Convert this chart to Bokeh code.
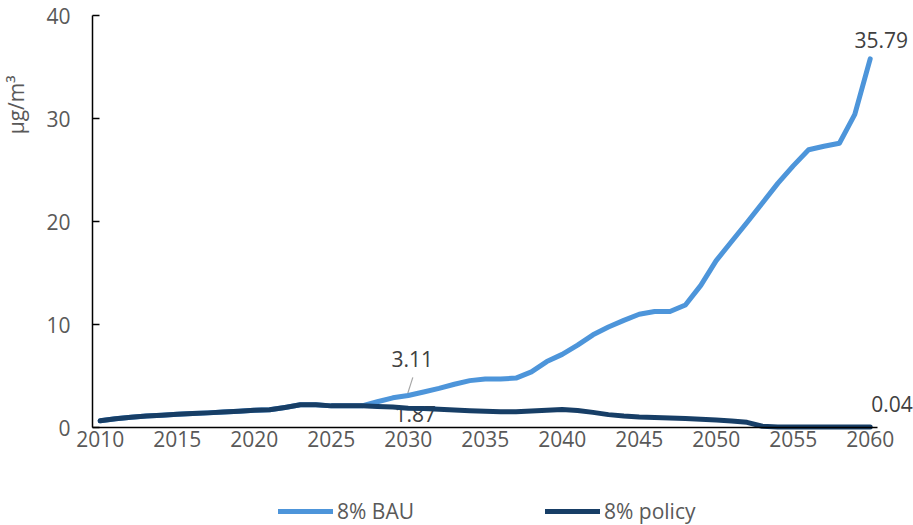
from bokeh.plotting import figure
from bokeh.models import Range1d, Legend, LegendItem, Label, Title, FixedTicker
from bokeh.embed import file_html
from bokeh.resources import INLINE

years = list(range(2010, 2061))

bau = [0.65, 0.85, 1.00, 1.12, 1.20, 1.28, 1.35, 1.42, 1.50, 1.58,
       1.68, 1.72, 1.95, 2.20, 2.20, 2.10, 2.10, 2.10, 2.50, 2.88,
       3.11, 3.45, 3.80, 4.20, 4.55, 4.70, 4.72, 4.80, 5.40, 6.40,
       7.10, 8.00, 9.00, 9.75, 10.40, 11.00, 11.26, 11.26, 11.90, 13.80,
       16.20, 18.06, 19.90, 21.80, 23.70, 25.40, 26.96, 27.30, 27.60, 30.40,
       35.79]

policy = [0.65, 0.85, 1.00, 1.12, 1.20, 1.28, 1.35, 1.42, 1.50, 1.58,
          1.68, 1.72, 1.95, 2.20, 2.20, 2.10, 2.10, 2.10, 2.05, 1.98,
          1.87, 1.85, 1.78, 1.70, 1.63, 1.57, 1.53, 1.53, 1.60, 1.68,
          1.74, 1.66, 1.47, 1.25, 1.12, 1.03, 0.98, 0.93, 0.87, 0.80,
          0.72, 0.64, 0.50, 0.12, 0.06, 0.05, 0.05, 0.05, 0.05, 0.04,
          0.04]

x_ticks = [2010, 2015, 2020, 2025, 2030, 2035, 2040, 2045, 2050, 2055, 2060]
y_ticks = [0, 10, 20, 30, 40]
series_names = ["8% BAU", "8% policy"]
colors = ["#4D95DA", "#173E66"]

FONT = "Open Sans"
FS = "21px"
TICK_COLOR = "#595959"
LABEL_COLOR = "#404040"

# layout geometry (pixels)
FULL_W, FULL_H = 913, 525
FRAME_LEFT = 31
AXIS_X_PX = 92        # y axis line position
AXIS_Y0_PX = 427      # y = 0 line position
AXIS_Y40_PX = 15      # y = 40 position
PX_PER_YEAR = 15.4
PX_PER_UNIT = (AXIS_Y0_PX - AXIS_Y40_PX) / 40.0

X0 = 2009.5 - (AXIS_X_PX - FRAME_LEFT) / PX_PER_YEAR
X1 = X0 + (FULL_W - FRAME_LEFT) / PX_PER_YEAR
Y0 = -(FULL_H - AXIS_Y0_PX) / PX_PER_UNIT
Y1 = 40 + AXIS_Y40_PX / PX_PER_UNIT

p = figure(width=FULL_W, height=FULL_H,
           x_range=Range1d(X0, X1), y_range=Range1d(Y0, Y1),
           output_backend="svg", toolbar_location=None,
           min_border_left=FRAME_LEFT, min_border_right=0,
           min_border_top=0, min_border_bottom=0)
p.outline_line_color = None
p.xgrid.visible = False
p.ygrid.visible = False
p.background_fill_color = "white"
p.border_fill_color = "white"

for ax in (p.xaxis[0], p.yaxis[0]):
    ax.axis_line_color = "black"
    ax.axis_line_width = 1.5
    ax.major_label_text_font = FONT
    ax.major_label_text_font_size = FS
    ax.major_label_text_color = TICK_COLOR
    ax.minor_tick_line_color = None

p.xaxis.ticker = FixedTicker(ticks=x_ticks)
p.xaxis.bounds = (2009.5, 2060.5)
p.xaxis.fixed_location = 0
p.xaxis.major_tick_in = 0
p.xaxis.major_tick_out = 0
p.xaxis.major_label_standoff = 3

p.yaxis.ticker = FixedTicker(ticks=y_ticks)
p.yaxis.bounds = (0, 40)
p.yaxis.fixed_location = 2009.5
p.yaxis.major_tick_in = 7
p.yaxis.major_tick_out = 0
p.yaxis.major_tick_line_color = "black"
p.yaxis.major_tick_line_width = 1.5
p.yaxis.major_label_standoff = 22

ytitle = Title(text="µg/m³", align="right", offset=75, vertical_align="top",
               text_font=FONT, text_font_size=FS,
               text_font_style="normal", text_color=TICK_COLOR, standoff=0)
p.add_layout(ytitle, "left")

# data labels (drawn beneath lines)
i30 = years.index(2030)
common = dict(text_font=FONT, text_font_size=FS, text_color=LABEL_COLOR,
              text_baseline="middle")
lab_311 = Label(x=years[i30], y=bau[i30], text=f"{bau[i30]:.2f}",
                x_offset=4, y_offset=36, text_align="center", level="underlay", **common)
lab_187 = Label(x=years[i30], y=policy[i30], text=f"{policy[i30]:.2f}",
                x_offset=7, y_offset=-6, text_align="center", level="underlay", **common)
lab_end_bau = Label(x=years[-1], y=bau[-1], text=f"{bau[-1]:.2f}",
                    x_offset=11, y_offset=19, text_align="center", **common)
lab_end_pol = Label(x=years[-1], y=policy[-1], text=f"{policy[-1]:.2f}",
                    x_offset=1, y_offset=23, text_align="left", **common)
for lb in (lab_311, lab_187, lab_end_bau, lab_end_pol):
    p.add_layout(lb)

# leader line for 3.11
p.segment(x0=[years[i30] - 0.05], y0=[bau[i30] + 0.1],
          x1=[years[i30] + 0.3], y1=[bau[i30] + 1.75],
          line_color="#A6A6A6", line_width=1.2)

r_bau = p.line(years, bau, line_color=colors[0], line_width=5,
               line_join="round", line_cap="round")
r_pol = p.line(years, policy, line_color=colors[1], line_width=5,
               line_join="round", line_cap="round")

legend = Legend(items=[LegendItem(label=series_names[0], renderers=[r_bau]),
                       LegendItem(label=series_names[1], renderers=[r_pol])],
                orientation="horizontal", location=(278 - FRAME_LEFT, 0),
                padding=0, margin=0, spacing=131,
                glyph_width=55, glyph_height=20, label_standoff=4,
                label_text_font=FONT, label_text_font_size=FS,
                label_text_color=TICK_COLOR,
                border_line_color=None, background_fill_alpha=0)
p.add_layout(legend, "center")

open("out.html", "w").write(file_html(p, INLINE))
